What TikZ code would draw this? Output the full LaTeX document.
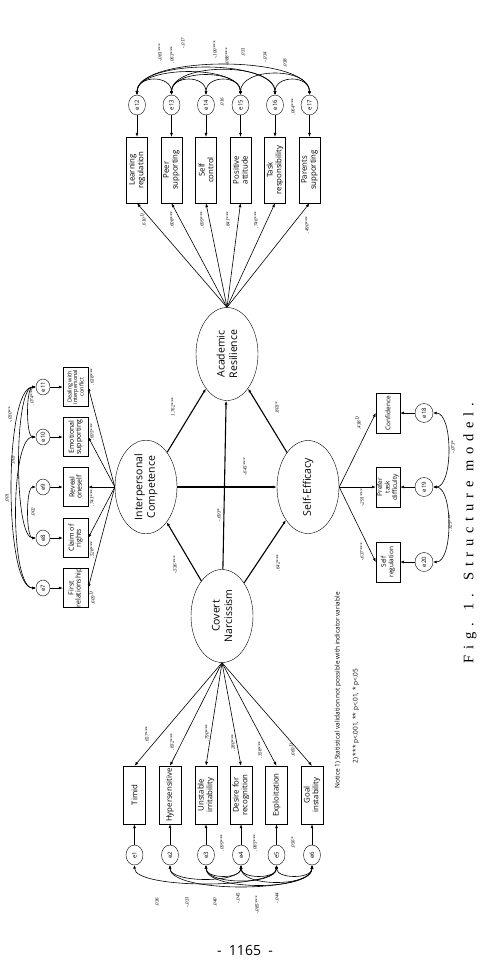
\documentclass[tikz,border=0pt]{standalone}
\usepackage{fontspec}
\setmainfont{Liberation Serif}
\setsansfont{Open Sans}
\newfontfamily\capfont[LetterSpace=40]{Liberation Serif}
\usetikzlibrary{shapes.geometric, arrows.meta, positioning, calc}

\begin{document}
\begin{tikzpicture}[
  x=1pt, y=-1pt,
  font=\sffamily,
  latent/.style={draw, ellipse, rotate=90, minimum width=93pt, minimum height=62pt, inner sep=0pt, align=center, font=\sffamily\fontsize{10.5}{12.5}\selectfont},
  ind/.style={draw, rectangle, rotate=90, inner sep=0pt, align=center, font=\sffamily\fontsize{7.8}{8.8}\selectfont},
  err/.style={draw, ellipse, rotate=90, minimum width=20pt, minimum height=17pt, inner sep=0pt, font=\sffamily\fontsize{6}{7}\selectfont},
  est/.style={rotate=90, inner sep=0pt, font=\itshape\fontsize{5}{6}\selectfont},
  effect/.style={line width=1.1pt, -{Latex[length=4pt, width=3pt]}},
  load/.style={line width=0.6pt, -{Latex[length=4pt, width=3pt]}},
  cov/.style={line width=0.6pt, {Latex[length=3.5pt, width=3pt]}-{Latex[length=3.5pt, width=3pt]}},
]
\useasboundingbox (0,0) rectangle (492,962);

% latent variables
\node[latent] (AR) at (227,354) {Academic\\Resilience};
\node[latent] (IC) at (146,487) {Interpersonal\\Competence};
\node[latent] (SE) at (308,487) {Self-Efficacy};
\node[latent] (CN) at (222,616) {Covert\\Narcissism};

\draw[effect] (CN) -- (IC);
\draw[effect] (CN) -- (SE);
\draw[effect] (CN) -- (AR);
\draw[effect] (IC) -- (SE);
\draw[effect] (IC) -- (AR);
\draw[effect] (SE) -- (AR);
\node[est] at (173,407) {1.762***};
\node[est] at (277,408) {.803*};
\node[est] at (245,467) {-.645***};
\node[est] at (219,515) {-.693*};
\node[est] at (175,565) {-.536***};
\node[est] at (278,563) {.642***};

% covert narcissism
\foreach \i/\x/\t in {1/134.5/Timid, 2/170/Hypersensitive, 3/206/{Unstable\\irritability}, 4/241/{Desire for\\recognition}, 5/276.5/Exploitation, 6/312/{Goal\\instability}}{
  \node[ind, minimum width=58pt, minimum height=22pt] (c\i) at (\x,795) {\t};
  \node[err] (e\i) at (\x,855) {e\i};
  \draw[load] (e\i) -- (c\i);
  \draw[load] (CN.west) -- (c\i.east);
}
\node[est] at (147,735) {.657***};
\node[est] at (172,742) {.832***};
\node[est] at (207,733) {.790***};
\node[est] at (233,743) {.280***};
\node[est] at (260,750) {.358***};
\node[est] at (292,750) {.669\textsuperscript{1)}};
\draw[cov] (e3.west) .. controls +(0,14) and +(0,14) .. (e4.west);
\draw[cov] (e4.west) .. controls +(0,14) and +(0,14) .. (e5.west);
\draw[cov] (e5.west) .. controls +(0,14) and +(0,14) .. (e6.west);
\draw[cov] (e1.west) .. controls +(0,24) and +(0,24) .. (e5.west);
\draw[cov] (e2.west) .. controls +(0,18) and +(0,18) .. (e4.west);
\draw[cov] (e3.west) .. controls +(0,20) and +(0,20) .. (e5.west);
\draw[cov] (e3.west) .. controls +(0,26) and +(0,26) .. (e6.west);
\draw[cov] (e4.west) .. controls +(0,22) and +(0,22) .. (e6.west);
\draw[cov] (e2.west) .. controls +(0,28) and +(0,28) .. (e6.west);
\node[est] at (222,843) {.099***};
\node[est] at (255,843) {.085***};
\node[est] at (293,843) {.056*};
\node[est] at (157,902) {.036};
\node[est] at (187,902) {-.031};
\node[est] at (215,902) {.040};
\node[est] at (238,898) {-.045};
\node[est] at (257,905) {-.085***};
\node[est] at (277,898) {-.044};

% academic resilience
\foreach \i/\x/\t in {12/137/{Learning\\regulation}, 13/171.5/{Peer\\supporting}, 14/206/{Self\\control}, 15/240.5/{Positive\\attitude}, 16/275/{Task\\responsibility}, 17/309.5/{Parents\\supporting}}{
  \node[ind, minimum width=66pt, minimum height=21pt] (a\i) at (\x,170) {\t};
  \node[err] (e\i) at (\x,105) {e\i};
  \draw[load] (e\i) -- (a\i);
  \draw[load] (AR.east) -- (a\i.west);
}
\node[est] at (143,220) {.610\textsuperscript{1)}};
\node[est] at (172,220) {.608***};
\node[est] at (202,220) {.699***};
\node[est] at (228,220) {.841***};
\node[est] at (256,220) {.746***};
\node[est] at (307,225) {.490***};
\draw[cov] (e12.east) .. controls +(0,-20) and +(0,-20) .. (e13.east);
\draw[cov] (e13.east) .. controls +(0,-20) and +(0,-20) .. (e14.east);
\draw[cov] (e14.east) .. controls +(0,-20) and +(0,-20) .. (e15.east);
\draw[cov] (e16.east) .. controls +(0,-20) and +(0,-20) .. (e17.east);
\draw[cov] (e12.east) .. controls +(0,-30) and +(0,-30) .. (e15.east);
\draw[cov] (e12.east) .. controls +(0,-36) and +(0,-36) .. (e16.east);
\draw[cov] (e12.east) .. controls +(0,-40) and +(0,-40) .. (e17.east);
\draw[cov] (e13.east) .. controls +(0,-26) and +(0,-26) .. (e15.east);
\draw[cov] (e13.east) .. controls +(0,-33) and +(0,-33) .. (e16.east);
\draw[cov] (e15.east) .. controls +(0,-28) and +(0,-28) .. (e17.east);
\node[est] at (160,53) {-.081***};
\node[est] at (172,55) {.063***};
\node[est] at (183,43) {-.017};
\node[est] at (215,50) {-.100***};
\node[est] at (227,57) {-.088***};
\node[est] at (243,52) {.031};
\node[est] at (265,57) {-.034};
\node[est] at (285,63) {.038};
\node[est] at (222,102) {.016};
\node[est] at (293,107) {.064***};

% interpersonal competence
\foreach \i/\y/\s/\t in {7/588/7/{First\\relationship}, 8/538/7/{Claim of\\rights}, 9/487/7/{Reveal\\oneself}, 10/437/7/{Emotional\\supporting}, 11/387/5.5/{Dealing with\\interpersonal\\conflict}}{
  \node[ind, minimum width=39pt, minimum height=25pt, font=\sffamily\fontsize{\s}{\s}\selectfont] (p\i) at (75.5,\y) {\t};
  \node[err, minimum width=16pt, minimum height=14pt] (e\i) at (43,\y) {e\i};
  \draw[load] (e\i) -- (p\i);
  \draw[load] (IC.north) -- (p\i.south);
}
\node[est] at (92,598) {.609\textsuperscript{1)}};
\node[est] at (92,550) {.528***};
\node[est] at (92,498) {.741***};
\node[est] at (92,432) {.695***};
\node[est] at (92,377) {.638***};
\draw[cov] (e10.north) .. controls +(-10,0) and +(-10,0) .. (e11.north);
\draw[cov] (e8.north) .. controls +(-10,0) and +(-10,0) .. (e9.north);
\draw[cov] (e8.north) .. controls +(-22,0) and +(-22,0) .. (e11.north);
\draw[cov] (e7.north) .. controls +(-26,0) and +(-26,0) .. (e10.north);
\draw[cov] (e7.north) .. controls +(-32,0) and +(-32,0) .. (e11.north);
\node[est] at (10,415) {-.030**};
\node[est] at (32,397) {.074***};
\node[est] at (13,460) {.003};
\node[est] at (7,498) {.001};
\node[est] at (33,512) {.002};

% self-efficacy
\foreach \i/\y/\t in {18/413/Confidence, 19/487/{Prefer\\task\\difficulty}, 20/562/{Self\\regulation}}{
  \node[ind, minimum width=40pt, minimum height=24pt, font=\sffamily\fontsize{6.5}{7.5}\selectfont] (s\i) at (388,\y) {\t};
  \node[err, minimum width=19pt, minimum height=18pt] (e\i) at (424,\y) {e\i};
  \draw[load] (e\i) -- (s\i);
  \draw[load] (SE.south) -- (s\i.north);
}
\node[est] at (358,423) {.438\textsuperscript{1)}};
\node[est] at (362,498) {-.291***};
\node[est] at (362,552) {-.637***};
\draw[cov] (e18.south) .. controls +(20,0) and +(20,0) .. (e19.south);
\draw[cov] (e19.south) .. controls +(20,0) and +(20,0) .. (e20.south);
\node[est] at (453,447) {-.073*};
\node[est] at (450,523) {.325***};

% notes, caption, page number
\node[rotate=90, anchor=west, font=\sffamily\fontsize{6.5}{8}\selectfont] (note1) at (338,792) {Notice 1) Statistical validation not possible with indicator variable};
\node[rotate=90, anchor=west, font=\sffamily\fontsize{6.5}{8}\selectfont] (note2) at (356,767) {2) *** p<.001, ** p<.01, * p<.05};
\node[rotate=90, font=\capfont\fontsize{14.5}{16}\selectfont] (caption) at (470,533) {Fig. 1. Structure model.};
\node[font=\sffamily\fontsize{14}{16}\selectfont] (pagenum) at (245,950) {-\ \ 1165\ \ -};
\end{tikzpicture}
\end{document}
